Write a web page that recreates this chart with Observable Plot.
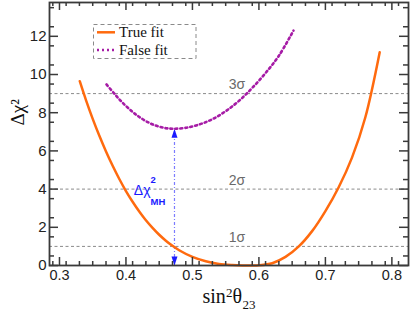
<!DOCTYPE html>
<html><head><meta charset="utf-8">
<script src="https://cdn.jsdelivr.net/npm/d3@7"></script>
<script src="https://cdn.jsdelivr.net/npm/@observablehq/plot@0.6"></script>
<style>body{margin:0;background:#fff}#chart{width:411px;height:316px}</style>
</head><body><div id="chart"></div>
<script>
// ---- data ----
const trueX = [0.3305,0.34,0.35,0.36,0.37,0.38,0.39,0.40,0.41,0.42,0.43,0.44,0.45,0.46,0.47,0.48,0.50,0.52,0.54,0.56,0.575,0.59,0.60,0.62,0.64,0.66,0.68,0.70,0.72,0.74,0.76,0.7817];
const trueY = [9.65,8.65,7.68,6.79,5.97,5.22,4.53,3.90,3.34,2.83,2.37,1.97,1.61,1.30,1.03,0.80,0.45,0.22,0.08,0.02,0.0,0.0,0.01,0.12,0.45,1.0,1.8,2.85,4.1,5.65,7.75,11.17];
const falseX = [0.3707,0.383,0.395,0.41,0.422,0.435,0.447,0.46,0.472,0.49,0.51,0.53,0.55,0.57,0.59,0.61,0.63,0.652];
const falseY = [9.48,8.98,8.52,8.04,7.73,7.47,7.30,7.19,7.16,7.21,7.38,7.66,8.08,8.62,9.30,10.08,10.98,12.3];
const xTicks = [0.3,0.4,0.5,0.6,0.7,0.8];
const xTickLabels = ["0.3","0.4","0.5","0.6","0.7","0.8"];
const yTicks = [0,2,4,6,8,10,12];
const yTickLabels = ["0","2","4","6","8","10","12"];
const sigmaLevels = [1,4,9];
const sigmaLabels = ["1σ","2σ","3σ"];
const sigmaLabelX = 0.567;
const arrowX = 0.473;          // Δχ²_MH measured at this sin²θ23
const arrowTop = 7.16;         // false-fit minimum
const arrowBottom = 0;         // true-fit value at minimum
const labelY = 4;
const seriesNames = ["True fit","False fit"];

// ---- layout ----
const W = 411, H = 316, mL = 49, mR = 3, mT = 2, mB = 51;
const xDomain = [0.285, 0.825], yDomain = [0, 13.77];
const ux = (xDomain[1]-xDomain[0])/(W-mL-mR);
const uy = (yDomain[1]-yDomain[0])/(H-mT-mB);
const xMinor = d3.range(0.29, 0.825, 0.02).filter(v => Math.abs(v*10 - Math.round(v*10)) > 1e-6);
const yMinor = d3.range(0.5, 13.7, 1);
const axisColor = "#3a3a3a";
const orange = "#ff6a0e", purple = "#a61ca6", blue = "#1a1aff";
const serif = "'Liberation Serif', 'Times New Roman', serif";

const trueData = trueX.map((x,i)=>({x, y: trueY[i]}));
const falseData = falseX.map((x,i)=>({x, y: falseY[i]}));

const triUp = {draw(c){c.moveTo(0,0);c.lineTo(-3,9);c.lineTo(3,9);c.closePath();}};
const triDown = {draw(c){c.moveTo(0,0);c.lineTo(-3,-9);c.lineTo(3,-9);c.closePath();}};

const tickMarks = (vals, len, sw) => [
  Plot.ruleX(vals, {x: d=>d, y1: ()=>yDomain[0], y2: ()=>yDomain[0]+len*uy, stroke: axisColor, strokeWidth: sw}),
  Plot.ruleX(vals, {x: d=>d, y1: ()=>yDomain[1], y2: ()=>yDomain[1]-len*uy, stroke: axisColor, strokeWidth: sw})
];
const tickMarksY = (vals, len, sw) => [
  Plot.ruleY(vals, {y: d=>d, x1: ()=>xDomain[0], x2: ()=>xDomain[0]+len*ux, stroke: axisColor, strokeWidth: sw}),
  Plot.ruleY(vals, {y: d=>d, x1: ()=>xDomain[1], x2: ()=>xDomain[1]-len*ux, stroke: axisColor, strokeWidth: sw})
];

const chart = Plot.plot({
  width: W, height: H, marginLeft: mL, marginRight: mR, marginTop: mT, marginBottom: mB,
  x: {domain: xDomain, axis: null},
  y: {domain: yDomain, axis: null},
  style: {fontFamily: "'Liberation Sans', Arial, sans-serif", background: "#fff"},
  marks: [
    Plot.ruleY(sigmaLevels, {y: d=>d, stroke: "#8a8a8a", strokeWidth: 1, strokeDasharray: "3,2.5"}),
    Plot.text(sigmaLabels, {x: ()=>sigmaLabelX, y: (d,i)=>sigmaLevels[i], text: d=>d, dy: -9, fill: "#6a6a6a", fontSize: 14}),
    Plot.ruleX([arrowX], {x: d=>d, y1: ()=>arrowBottom, y2: ()=>arrowTop, stroke: "#7b7bff", strokeWidth: 1.2, strokeDasharray: "3,2,1,2"}),
    Plot.dot([arrowX], {x: d=>d, y: ()=>arrowTop, symbol: triUp, fill: blue, stroke: null, r: 4}),
    Plot.dot([arrowX], {x: d=>d, y: ()=>arrowBottom, symbol: triDown, fill: blue, stroke: null, r: 4}),
    Plot.text(["Δχ"], {x: ()=>arrowX, y: ()=>labelY, text: d=>d, textAnchor: "end", dx: -24, dy: 1, fill: blue, fontSize: 14}),
    Plot.text(["2"], {x: ()=>arrowX, y: ()=>labelY, text: d=>d, textAnchor: "start", dx: -24, dy: -9, fill: blue, fontSize: 9.5, fontWeight: "bold"}),
    Plot.text(["MH"], {x: ()=>arrowX, y: ()=>labelY, text: d=>d, textAnchor: "start", dx: -24, dy: 13, fill: blue, fontSize: 9.5, fontWeight: "bold"}),
    Plot.line(trueData, {x: "x", y: "y", stroke: orange, strokeWidth: 2.5, curve: "catmull-rom"}),
    Plot.line(falseData, {x: "x", y: "y", stroke: purple, strokeWidth: 2.6, strokeDasharray: "2,3", curve: "catmull-rom"}),
    ...tickMarks(xTicks, 8, 1.5),
    ...tickMarks(xMinor, 4, 1.5),
    ...tickMarksY(yTicks, 9, 1.5),
    ...tickMarksY(yMinor, 5, 1.5),
    Plot.frame({stroke: axisColor, strokeWidth: 1.8}),
    Plot.text(xTickLabels, {x: (d,i)=>xTicks[i], y: ()=>yDomain[0], text: d=>d, lineAnchor: "top", dy: 4, fontSize: 14.5, fill: "#222"}),
    Plot.text(yTickLabels, {x: ()=>xDomain[0], y: (d,i)=>yTicks[i], text: d=>d, textAnchor: "end", dx: -3, fontSize: 15, fill: "#222"}),
    Plot.text(["Δχ²"], {frameAnchor: "left", text: d=>d, rotate: -90, dx: -32, dy: -8.5, fontSize: 19, fontFamily: serif, fill: "#111"}),
    Plot.text(["sin"], {frameAnchor: "bottom", text: d=>d, textAnchor: "start", dx: -26.5, dy: 44 - 0.32*20, fontSize: 20, fontFamily: serif, fill: "#111"}),
    Plot.text(["2"], {frameAnchor: "bottom", text: d=>d, textAnchor: "start", dx: -3, dy: 36 - 0.32*13, fontSize: 13, fontFamily: serif, fill: "#111"}),
    Plot.text(["θ"], {frameAnchor: "bottom", text: d=>d, textAnchor: "start", dx: 3.5, dy: 44 - 0.32*20, fontSize: 20, fontFamily: serif, fill: "#111"}),
    Plot.text(["23"], {frameAnchor: "bottom", text: d=>d, textAnchor: "start", dx: 13.5, dy: 48 - 0.32*13, fontSize: 13, fontFamily: serif, fill: "#111"})
  ]
});
document.getElementById("chart").appendChild(chart);

// ---- legend (inside the frame, top-left) ----
const svg = d3.select(chart);
const lg = svg.append("g").attr("font-family", serif).attr("font-size", 15).attr("text-anchor", "start");
lg.append("rect").attr("x", 93.5).attr("y", 24.5).attr("width", 102.5).attr("height", 34)
  .attr("fill", "none").attr("stroke", "#8a8a8a").attr("stroke-width", 1).attr("stroke-dasharray", "4,3");
const legendItems = [{name: seriesNames[0], color: orange, dash: null, y: 32.3},
                     {name: seriesNames[1], color: purple, dash: "2,3", y: 50}];
legendItems.forEach(it => {
  lg.append("line").attr("x1", 97).attr("x2", 115).attr("y1", it.y).attr("y2", it.y)
    .attr("stroke", it.color).attr("stroke-width", 2.5).attr("stroke-dasharray", it.dash);
  lg.append("text").attr("x", 119).attr("y", it.y + 5).attr("text-anchor", "start").attr("fill", "#111").text(it.name);
});
</script>
</body></html>
